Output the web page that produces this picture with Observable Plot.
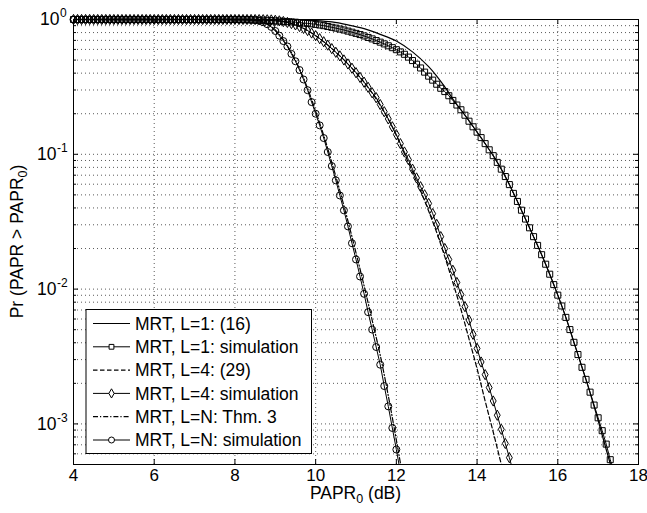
<!DOCTYPE html>
<html><head><meta charset="utf-8">
<script src="https://cdn.jsdelivr.net/npm/d3@7"></script>
<script src="https://cdn.jsdelivr.net/npm/@observablehq/plot@0.6"></script>
<style>body{margin:0;background:#fff} svg{display:block}</style>
</head><body><div id="chart"></div>
<script>
// ---------- data ----------
const xTicks = [4, 6, 8, 10, 12, 14, 16, 18];
const yDecades = [1, 0.1, 0.01, 0.001];
const yExps = ["0", "-1", "-2", "-3"];
const legendLabels = ["MRT, L=1: (16)", "MRT, L=1: simulation", "MRT, L=4: (29)",
  "MRT, L=4: simulation", "MRT, L=N: Thm. 3", "MRT, L=N: simulation"];

// common PAPR0 grid (dB) of the simulation markers
const simX = [
 4.0,4.1,4.2,4.3,4.4,4.5,4.6,4.7,4.8,4.9,
 5.0,5.1,5.2,5.3,5.4,5.5,5.6,5.7,5.8,5.9,
 6.0,6.1,6.2,6.3,6.4,6.5,6.6,6.7,6.8,6.9,
 7.0,7.1,7.2,7.3,7.4,7.5,7.6,7.7,7.8,7.9,
 8.0,8.1,8.2,8.3,8.4,8.5,8.6,8.7,8.8,8.9,
 9.0,9.1,9.2,9.3,9.4,9.5,9.6,9.7,9.8,9.9,
 10.0,10.1,10.2,10.3,10.4,10.5,10.6,10.7,10.8,10.9,
 11.0,11.1,11.2,11.3,11.4,11.5,11.6,11.7,11.8,11.9,
 12.0,12.1,12.2,12.3,12.4,12.5,12.6,12.7,12.8,12.9,
 13.0,13.1,13.2,13.3,13.4,13.5,13.6,13.7,13.8,13.9,
 14.0,14.1,14.2,14.3,14.4,14.5,14.6,14.7,14.8,14.9,
 15.0,15.1,15.2,15.3,15.4,15.5,15.6,15.7,15.8,15.9,
 16.0,16.1,16.2,16.3,16.4,16.5,16.6,16.7,16.8,16.9,
 17.0,17.1,17.2,17.3,17.4];

// MRT, L=1: simulation (squares)
const simL1 = [
 1,1,1,1,1,1,1,1,1,1,
 1,1,1,1,1,1,1,1,1,1,
 1,1,1,1,1,1,1,1,1,1,
 1,1,1,1,1,1,1,1,1,1,
 1,1,0.998,0.998,0.995,0.993,0.991,0.989,0.986,0.982,
 0.977,0.973,0.968,0.964,0.959,0.955,0.948,0.942,0.935,0.929,
 0.920,0.910,0.900,0.887,0.875,0.863,0.849,0.836,0.820,0.805,
 0.789,0.773,0.755,0.736,0.718,0.698,0.679,0.659,0.638,0.618,
 0.597,0.575,0.552,0.526,0.496,0.466,0.437,0.407,0.380,0.355,
 0.331,0.309,0.292,0.272,0.251,0.232,0.214,0.195,0.176,0.160,
 0.146,0.133,0.120,0.108,0.0977,0.0871,0.0776,0.0684,0.0596,0.0513,
 0.0447,0.0385,0.0331,0.0285,0.0245,0.0211,0.0180,0.0153,0.0129,0.0108,
 0.00902,0.00750,0.00617,0.00501,0.00403,0.00327,0.00263,0.00214,0.00172,0.00138,
 0.00111,0.000891,0.000708,0.000543,0.000427];

// MRT, L=4: simulation (diamonds)
const simL4 = [
 1,1,1,1,1,1,1,1,1,1,
 1,1,1,1,1,1,1,1,1,1,
 1,1,1,1,1,1,1,1,1,1,
 1,1,1,1,1,1,1,1,1,1,
 1,1,1,1,1,0.999,0.998,0.997,0.995,0.993,
 0.986,0.977,0.966,0.951,0.933,0.912,0.887,0.859,0.828,0.794,
 0.759,0.721,0.684,0.646,0.608,0.571,0.537,0.501,0.468,0.435,
 0.403,0.372,0.343,0.314,0.286,0.263,0.234,0.207,0.183,0.160,
 0.140,0.120,0.104,0.0912,0.0776,0.0668,0.0575,0.0501,0.0432,0.0363,
 0.0302,0.0245,0.0200,0.0166,0.0138,0.0112,0.00912,0.00741,0.00589,0.00462,
 0.00363,0.00288,0.00232,0.00186,0.00148,0.00116,0.000912,0.000716,0.000562,0.000437];

// MRT, L=N: simulation (circles)
const simLN = [
 1,1,1,1,1,1,1,1,1,1,
 1,1,1,1,1,1,1,1,1,1,
 1,1,1,1,1,1,1,1,1,1,
 1,1,1,1,1,1,1,1,1,1,
 1,1,0.999,0.998,0.995,0.989,0.977,0.955,0.923,0.881,
 0.822,0.759,0.692,0.631,0.556,0.490,0.422,0.359,0.299,0.244,
 0.200,0.164,0.132,0.104,0.0818,0.0641,0.0495,0.0384,0.0292,0.0219,
 0.0166,0.0124,0.00923,0.00675,0.00501,0.00372,0.00275,0.00191,0.00135,0.000933,
 0.000646,0.000437];

// MRT, L=1: (16)  solid
const thL1X = [4, 9.0, 9.6, 10.0, 10.4, 10.8, 11.2, 11.6, 12.0, 12.4, 12.8, 13.0, 13.2, 13.4, 13.6,
 13.8, 14.0, 14.2, 14.4, 14.6, 14.8, 15.0, 15.2, 15.4, 15.6, 15.8, 16.0, 16.2, 16.4, 16.6, 16.8, 17.0, 17.2, 17.4];
const thL1Y = [1, 1, 0.993, 0.982, 0.959, 0.912, 0.855, 0.776, 0.692, 0.575, 0.447, 0.380, 0.316, 0.257, 0.214,
 0.178, 0.146, 0.120, 0.0977, 0.0776, 0.0596, 0.0447, 0.0331, 0.0245, 0.0180, 0.0129, 0.00902, 0.00617, 0.00403,
 0.00263, 0.00170, 0.00106, 0.000646, 0.000398];

// MRT, L=4: (29)  dashed
const thL4X = [4, 8.6, 9.0, 9.4, 9.8, 10.2, 10.6, 11.0, 11.4, 11.8, 12.0, 12.2, 12.4, 12.6, 12.8, 13.0,
 13.2, 13.4, 13.6, 13.8, 14.0, 14.2, 14.4, 14.6, 14.7];
const thL4Y = [1, 1, 0.986, 0.933, 0.828, 0.684, 0.537, 0.403, 0.285, 0.182, 0.138, 0.101, 0.0741, 0.0537,
 0.0380, 0.0263, 0.0174, 0.0112, 0.00708, 0.00427, 0.00257, 0.00148, 0.000871, 0.000501, 0.000380];

// MRT, L=N: Thm. 3  dash-dot
const thLNX = [4, 8.0, 8.4, 8.6, 8.8, 9.0, 9.2, 9.4, 9.6, 9.8, 10.0, 10.2, 10.4, 10.6, 10.8, 11.0,
 11.2, 11.4, 11.6, 11.8, 12.0, 12.1, 12.2];
const thLNY = [1, 1, 0.993, 0.982, 0.933, 0.836, 0.708, 0.569, 0.432, 0.309, 0.209, 0.138, 0.0871, 0.0537,
 0.0320, 0.0186, 0.0106, 0.00589, 0.00324, 0.00162, 0.000759, 0.000513, 0.000347];

// ---------- build ----------
const W = 647, H = 513;
const mL = 73, mR = 9, mT = 19, mB = 49;
const innerW = W - mL - mR, innerH = H - mT - mB;
const yMin = 5e-4;

const toRows = (xs, ys) => ys.map((y, i) => ({x: xs[i], y}));
const sL1 = toRows(simX, simL1), sL4 = toRows(simX, simL4), sLN = toRows(simX, simLN);
const tL1 = toRows(thL1X, thL1Y), tL4 = toRows(thL4X, thL4Y), tLN = toRows(thLNX, thLNY);
const inDomain = d => d.y >= yMin;

const yMinor = [];
for (const dec of [1e-4, 1e-3, 1e-2, 1e-1]) {
  for (let k = 2; k <= 9; k++) { const v = k * dec; if (v >= yMin && v < 1) yMinor.push(v); }
}
const yGrid = yMinor.concat([0.1, 0.01, 0.001]);

const gridStyle = {stroke: "#000", strokeOpacity: 0.65, strokeWidth: 1, strokeDasharray: "1,3"};
const dashed = "4.5,2.5", dashdot = "5,2,1.2,2";
const font = "'Liberation Sans', Arial, Helvetica, sans-serif";
const rSq = 3.4, rDi = 3.1, rCi = 3.5;

const chart = Plot.plot({
  width: W, height: H,
  marginLeft: mL, marginRight: mR, marginTop: mT, marginBottom: mB,
  style: {fontFamily: font, background: "#fff", color: "#000"},
  x: {domain: [4, 18], axis: null},
  y: {type: "log", domain: [yMin, 1], axis: null},
  marks: [
    Plot.ruleX(xTicks.slice(1, -1), {x: d => d, ...gridStyle}),
    Plot.ruleY(yGrid, {y: d => d, ...gridStyle}),
    // theory curves
    Plot.line(tL1, {x: "x", y: "y", stroke: "#000", strokeWidth: 1.2, curve: "catmull-rom", clip: true}),
    Plot.line(tL4, {x: "x", y: "y", stroke: "#000", strokeWidth: 1.2, strokeDasharray: dashed, curve: "catmull-rom", clip: true}),
    Plot.line(tLN, {x: "x", y: "y", stroke: "#000", strokeWidth: 1.2, strokeDasharray: dashdot, curve: "catmull-rom", clip: true}),
    // simulation curves
    Plot.line(sL1, {x: "x", y: "y", stroke: "#000", strokeWidth: 1, clip: true}),
    Plot.line(sL4, {x: "x", y: "y", stroke: "#000", strokeWidth: 1, clip: true}),
    Plot.line(sLN, {x: "x", y: "y", stroke: "#000", strokeWidth: 1, clip: true}),
    Plot.dot(sL1.filter(inDomain), {x: "x", y: "y", symbol: "square", r: rSq, stroke: "#000", fill: "none", strokeWidth: 1}),
    Plot.dot(sL4.filter(inDomain), {x: "x", y: "y", symbol: "diamond", r: rDi, stroke: "#000", fill: "none", strokeWidth: 1}),
    Plot.dot(sLN.filter(inDomain), {x: "x", y: "y", symbol: "circle", r: rCi, stroke: "#000", fill: "none", strokeWidth: 1}),
    Plot.frame({stroke: "#000", strokeWidth: 1}),
    // inward ticks
    Plot.tickX(xTicks, {x: d => d, insetTop: innerH - 5, stroke: "#000"}),
    Plot.tickX(xTicks, {x: d => d, insetBottom: innerH - 5, stroke: "#000"}),
    Plot.tickY(yDecades, {y: d => d, insetRight: innerW - 5, stroke: "#000"}),
    Plot.tickY(yDecades, {y: d => d, insetLeft: innerW - 5, stroke: "#000"}),
    Plot.tickY(yMinor, {y: d => d, insetRight: innerW - 3, stroke: "#000"}),
    Plot.tickY(yMinor, {y: d => d, insetLeft: innerW - 3, stroke: "#000"}),
    // tick labels
    Plot.text(xTicks, {x: d => d, frameAnchor: "bottom", dy: 16, text: d => String(d), fontSize: 17, fill: "#000"}),
    Plot.text(yDecades.slice(0, 1), {y: d => d, frameAnchor: "left", dx: -14, textAnchor: "end", text: () => "10", fontSize: 17.5, fill: "#000"}),
    Plot.text(yDecades.slice(1), {y: d => d, frameAnchor: "left", dx: -17, textAnchor: "end", text: () => "10", fontSize: 17.5, fill: "#000"}),
    Plot.text(yDecades.slice(0, 1), {y: d => d, frameAnchor: "left", dx: -13.5, dy: -6, textAnchor: "start", text: () => yExps[0], fontSize: 12, fill: "#000"}),
    Plot.text(yDecades.slice(1), {y: d => d, frameAnchor: "left", dx: -16.5, dy: -6, textAnchor: "start", text: (d, i) => yExps[i + 1], fontSize: 12, fill: "#000"})
  ]
});

document.getElementById("chart").appendChild(chart);

// ---------- axis labels & legend ----------
const svg = d3.select(chart);
const xl = svg.append("text").attr("x", mL + innerW / 2).attr("y", 499)
  .attr("text-anchor", "middle").attr("font-size", 17.5).attr("font-family", font).attr("fill", "#000");
xl.append("tspan").text("PAPR");
xl.append("tspan").attr("font-size", 12.5).attr("dy", 4).text("0");
xl.append("tspan").attr("dy", -4).text(" (dB)");

const yl = svg.append("text").attr("transform", `translate(23,${mT + innerH / 2}) rotate(-90)`)
  .attr("text-anchor", "middle").attr("font-size", 17.5).attr("font-family", font).attr("fill", "#000");
yl.append("tspan").text("Pr (PAPR > PAPR");
yl.append("tspan").attr("font-size", 12.5).attr("dy", 4).text("0");
yl.append("tspan").attr("dy", -4).text(")");

const lg = svg.append("g").attr("font-family", font).attr("font-size", 17.5).attr("text-anchor", "start");
lg.append("rect").attr("x", 86).attr("y", 309.5).attr("width", 225.5).attr("height", 144)
  .attr("fill", "#fff").attr("stroke", "#000").attr("stroke-width", 1);
const styles = [
  {dash: null, sym: null},
  {dash: null, sym: d3.symbolSquare, r: 2.7},
  {dash: dashed, sym: null},
  {dash: null, sym: d3.symbolDiamond, r: 2.8},
  {dash: dashdot, sym: null},
  {dash: null, sym: d3.symbolCircle, r: 3}
];
legendLabels.forEach((lab, i) => {
  const y = 323.5 + i * 23.3;
  const st = styles[i];
  const ln = lg.append("line").attr("x1", 93).attr("x2", 130).attr("y1", y).attr("y2", y)
    .attr("stroke", "#000").attr("stroke-width", st.sym ? 1 : 1.2);
  if (st.dash) ln.attr("stroke-dasharray", st.dash);
  if (st.sym) lg.append("path").attr("d", d3.symbol().type(st.sym).size(Math.PI * st.r * st.r)())
    .attr("transform", `translate(111.5,${y})`).attr("fill", "#fff").attr("stroke", "#000").attr("stroke-width", 1);
  lg.append("text").attr("x", 135).attr("y", y).attr("dy", "0.35em").attr("fill", "#000").text(lab);
});
</script>
</body></html>
